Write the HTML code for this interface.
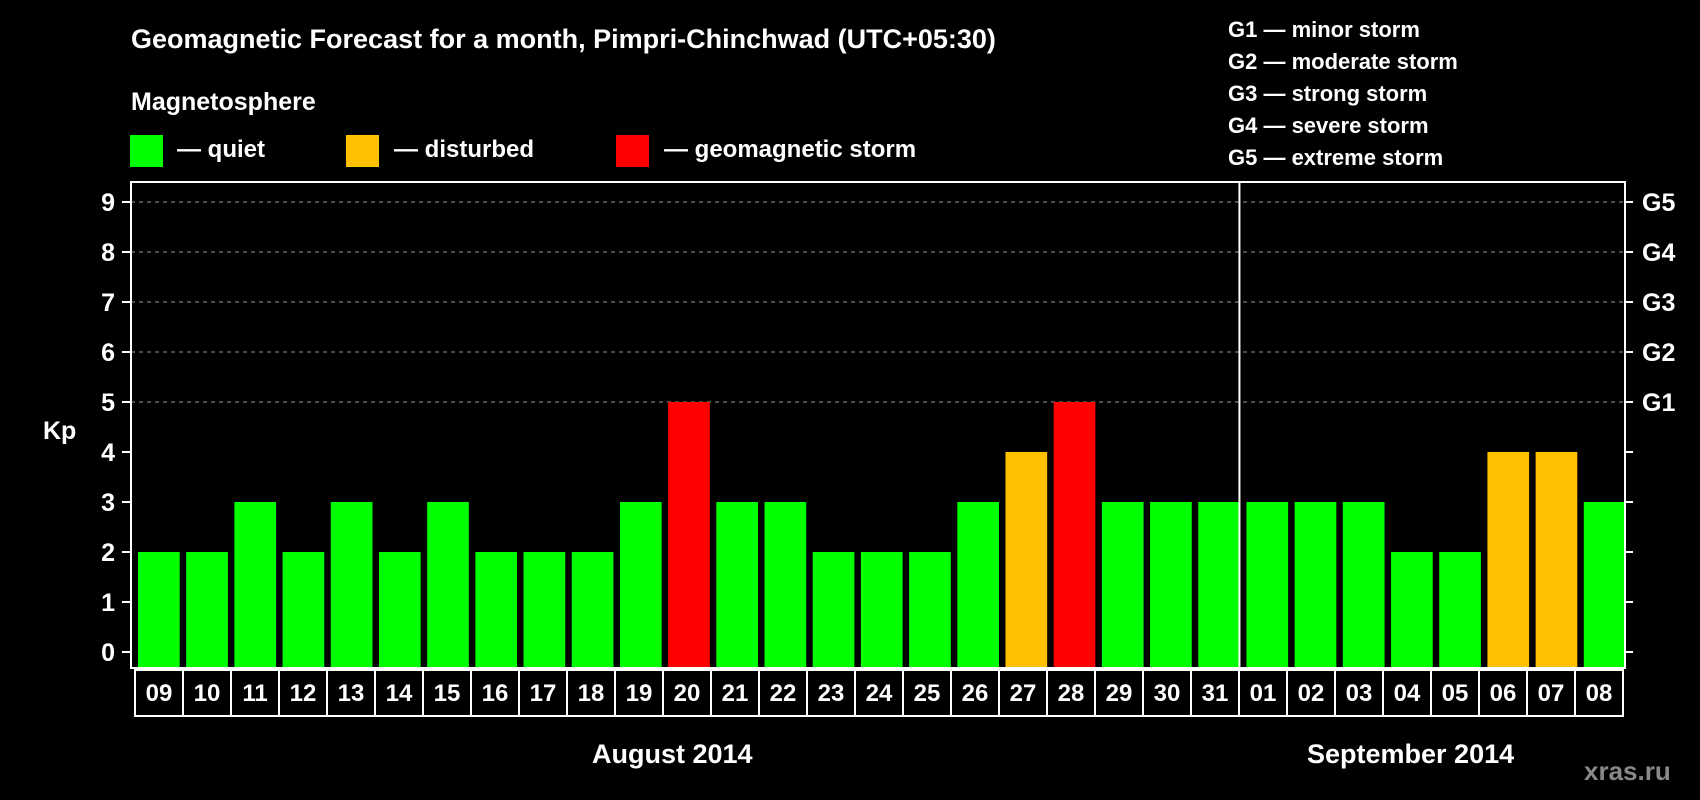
<!DOCTYPE html>
<html><head><meta charset="utf-8"><style>
html,body{margin:0;padding:0;background:#000;}
svg{display:block;font-family:"Liberation Sans",Arial,sans-serif;font-weight:bold;}
</style></head><body>
<svg id="chart" width="1700" height="800" viewBox="0 0 1700 800" xmlns="http://www.w3.org/2000/svg">
<rect width="1700" height="800" fill="#000"/>
<text x="131" y="48" fill="#fff" font-size="27">Geomagnetic Forecast for a month, Pimpri-Chinchwad (UTC+05:30)</text>
<text x="131" y="110" fill="#fff" font-size="25">Magnetosphere</text>
<rect x="130" y="135" width="33" height="32" fill="#00ff00"/>
<text x="177" y="157" fill="#fff" font-size="24">— quiet</text>
<rect x="346" y="135" width="33" height="32" fill="#ffc000"/>
<text x="394" y="157" fill="#fff" font-size="24">— disturbed</text>
<rect x="616" y="135" width="33" height="32" fill="#ff0000"/>
<text x="664" y="157" fill="#fff" font-size="24">— geomagnetic storm</text>
<g fill="#fff" font-size="22">
<text x="1228" y="37">G1 — minor storm</text>
<text x="1228" y="69">G2 — moderate storm</text>
<text x="1228" y="101">G3 — strong storm</text>
<text x="1228" y="133">G4 — severe storm</text>
<text x="1228" y="165">G5 — extreme storm</text>
</g>
<text x="43" y="439" fill="#fff" font-size="25">Kp</text>
<g id="plot"></g>
<text x="592" y="763" fill="#fff" font-size="27">August 2014</text>
<text x="1307" y="763" fill="#fff" font-size="27">September 2014</text>
<text x="1584" y="780" fill="#888" font-size="26">xras.ru</text>
</svg>
<script>
const days = ["09","10","11","12","13","14","15","16","17","18","19","20","21","22","23","24","25","26","27","28","29","30","31","01","02","03","04","05","06","07","08"];
const kpValues = [2,2,3,2,3,2,3,2,2,2,3,5,3,3,2,2,2,3,4,5,3,3,3,3,3,3,2,2,4,4,3];
const yTicks = [0,1,2,3,4,5,6,7,8,9];
const gridLevels = [5,6,7,8,9];
const gLabels = ["G1","G2","G3","G4","G5"];
const monthBreakIndex = 23;

const NS = "http://www.w3.org/2000/svg";
const g = document.getElementById("plot");
const L = 131, R = 1625, T = 182, B = 668;
const slot = (R - L) / days.length;
const y = v => 652 - v * 50;
const x = i => L + i * slot;
function mk(tag, attrs, parent) {
  const e = document.createElementNS(NS, tag);
  for (const k in attrs) e.setAttribute(k, attrs[k]);
  (parent || g).appendChild(e);
  return e;
}
gridLevels.forEach(v => {
  const l = mk("line", {x1: L, x2: R, y1: y(v), y2: y(v), stroke: "#999", "stroke-width": 1, "stroke-dasharray": "4,4"});
  
  
});
yTicks.forEach(v => {
  const t = mk("line", {x1: 122, x2: L, y1: y(v), y2: y(v), stroke: "#fff", "stroke-width": 2});
  
  
  const t2 = mk("line", {x1: R, x2: 1633, y1: y(v), y2: y(v), stroke: "#fff", "stroke-width": 2});
  
  
  const lb = mk("text", {x: 115, y: y(v) + 9, fill: "#fff", "font-size": 25, "text-anchor": "end"});
  lb.textContent = v;
  
  
});
gridLevels.forEach((v, i) => {
  const lb = mk("text", {x: 1642, y: y(v) + 9, fill: "#fff", "font-size": 25});
  lb.textContent = gLabels[i];
  
  
});
kpValues.forEach((v, i) => {
  const col = v >= 5 ? "#ff0000" : (v >= 4 ? "#ffc000" : "#00ff00");
  const b = mk("rect", {x: x(i) + 7, y: y(v), width: slot - 6.5, height: B - y(v), fill: col});
  
  
});
const frame = mk("rect", {x: L, y: T, width: R - L, height: B - T, fill: "none", stroke: "#fff", "stroke-width": 2});


const div = mk("line", {x1: x(monthBreakIndex), x2: x(monthBreakIndex), y1: T, y2: B, stroke: "#fff", "stroke-width": 2});


const bx0 = 135, bw = (1623 - 135) / days.length;
days.forEach((d, i) => {
  const r = mk("rect", {x: bx0 + i * bw, y: 670, width: bw, height: 46, fill: "#000", stroke: "#fff", "stroke-width": 2});
  
  
  const t = mk("text", {x: bx0 + i * bw + bw / 2, y: 701, fill: "#fff", "font-size": 24, "text-anchor": "middle"});
  t.textContent = d;
  
  
});
</script>
</body></html>
